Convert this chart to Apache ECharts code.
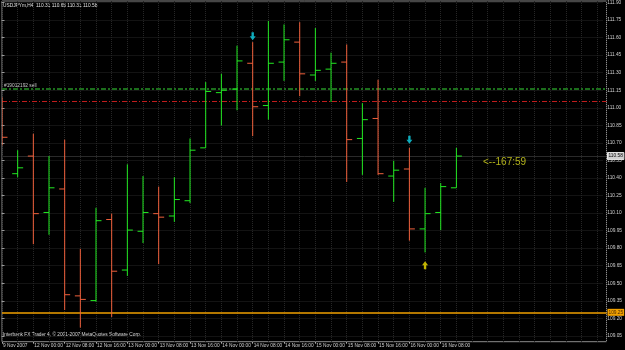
<!DOCTYPE html>
<html><head><meta charset="utf-8">
<script src="https://cdn.jsdelivr.net/npm/echarts@6/dist/echarts.min.js"></script>
<style>html,body{margin:0;padding:0;background:#000;}#c{width:625px;height:350px;}</style>
</head><body><div id="c"></div>
<script>
// ---- data ----
const timeLabels = ['9 Nov 2007','12 Nov 00:00','12 Nov 08:00','12 Nov 16:00','13 Nov 00:00','13 Nov 08:00','13 Nov 16:00','14 Nov 00:00','14 Nov 08:00','14 Nov 16:00','15 Nov 00:00','15 Nov 08:00','15 Nov 16:00','16 Nov 00:00','16 Nov 08:00'];
const labelBars = [0,2,4,6,8,10,12,14,16,18,20,22,24,26,28];
const opens  = [110.95,110.43,110.58,110.10,110.30,109.39,109.35,110.04,109.61,109.94,110.09,110.07,110.20,110.65,111.12,111.15,111.37,111.01,111.38,111.55,111.27,111.32,111.38,110.73,110.90,110.41,110.47,109.96,110.10,110.31];
const highs  = [111.08,110.63,110.77,110.58,110.72,109.79,110.14,110.09,110.51,110.41,110.32,110.40,110.73,111.21,111.28,111.52,111.55,111.73,111.70,111.72,111.67,111.46,111.53,111.03,111.23,110.54,110.65,110.31,110.35,110.65];
const lows   = [110.67,110.40,109.83,109.91,109.27,109.12,109.34,109.21,109.56,109.84,109.66,110.02,110.18,110.65,110.84,110.97,110.75,110.89,111.22,111.09,111.22,111.04,110.36,110.42,110.42,110.19,109.86,109.76,109.95,110.31];
const closes = [110.74,110.48,110.09,110.31,109.40,109.36,110.03,109.60,109.95,110.10,110.06,110.21,110.63,111.13,111.14,111.39,111.00,111.37,111.57,111.28,111.31,111.37,110.72,110.89,110.43,110.46,109.96,110.09,110.32,110.58];
const orderLevels = [111.15, 111.05];
const orderLabel = '#19012192 sell';
const bidPrice = 110.58;
const alertPrice = 109.25;
const arrowDown = [[16,111.60],[26,110.72]];
const arrowUp = [[27,109.65]];
const timerText = '<--167:59';
const timerAt = [30.7, 110.53];
const headerText = 'USDJPYm,H4  110.31 110.65 110.31 110.58';
const footerText = 'Interbank FX Trader 4, \u00A9 2001-2007 MetaQuotes Software Corp.';

// ---- chart ----
const bars = opens.map((o,i)=>[i,o,highs[i],lows[i],closes[i]]);
const BULL='#22e822', BEAR='#f0603c';
const FONT='Liberation Sans';
const XMAX=38.58;
const GRIDC='#262626';
const chart = echarts.init(document.getElementById('c'), null, {renderer:'canvas'});
chart.setOption({
  backgroundColor:'#000',
  animation:false,
  textStyle:{fontFamily:FONT},
  grid:[
    {left:1.5, right:18.5, top:1, bottom:8.3, show:true, borderColor:'#8c8c8c', borderWidth:1, backgroundColor:'transparent'},
    {left:1.5, right:18.5, top:1, bottom:14.1, show:false}
  ],
  xAxis:[
    {gridIndex:0, type:'value', min:0, max:XMAX, interval:1, axisLine:{show:false}, axisTick:{show:false}, axisLabel:{show:false},
      splitLine:{show:true, lineStyle:{color:GRIDC, type:'dotted', width:1}}},
    {gridIndex:0, type:'value', min:0, max:XMAX, position:'bottom', axisLine:{show:false},
      axisTick:{show:true, customValues:labelBars, length:2, lineStyle:{color:'#aaa'}},
      axisLabel:{show:true, customValues:labelBars, formatter:(v)=>{const k=labelBars.indexOf(Math.round(v)); return k>=0?timeLabels[k]:'';},
        align:'left', margin:1, padding:[0,0,0,1], fontSize:4.8, color:'#cfcfcf', fontFamily:FONT},
      splitLine:{show:false}},
    {gridIndex:1, type:'value', min:0, max:XMAX, show:false}
  ],
  yAxis:[
    {gridIndex:0, type:'value', min:109.0, max:111.90, show:false, splitLine:{show:false}},
    {gridIndex:1, type:'value', min:109.05, max:111.90, interval:0.15, position:'right', axisLine:{show:false},
      axisTick:{show:true, length:3, lineStyle:{color:'#9a9a9a'}},
      axisLabel:{show:true, fontSize:4.8, color:'#cfcfcf', margin:4, fontFamily:FONT, formatter:(v)=>v.toFixed(2)},
      splitLine:{show:true, lineStyle:{color:GRIDC, type:'dotted', width:1}}}
  ],
  series:[
    {type:'custom', xAxisIndex:0, yAxisIndex:0, clip:true, data:bars, z:5,
      renderItem:(params, api)=>{
        const x=api.value(0), o=api.value(1), h=api.value(2), l=api.value(3), c=api.value(4);
        const pH=api.coord([x,h]), pL=api.coord([x,l]), pO=api.coord([x,o]), pC=api.coord([x,c]);
        const w=api.size([1,0])[0]*0.35;
        const col = c>=o?BULL:BEAR;
        const st={stroke:col, lineWidth:1};
        return {type:'group', children:[
          {type:'line', shape:{x1:pH[0],y1:pH[1],x2:pL[0],y2:pL[1]}, style:st},
          {type:'line', shape:{x1:pO[0]-w,y1:pO[1],x2:pO[0],y2:pO[1]}, style:st},
          {type:'line', shape:{x1:pC[0],y1:pC[1],x2:pC[0]+w,y2:pC[1]}, style:st}
        ]};
      },
      markLine:{silent:true, symbol:['none','none'], animation:false,
        data:[
          {yAxis:orderLevels[0], lineStyle:{color:'#1c6e1c', width:2, type:[5,2,2,2]},
            label:{show:true, position:'insideStartTop', formatter:orderLabel, color:'#c8c8c8', fontSize:4.8, fontFamily:FONT, distance:[2,1]}},
          {yAxis:orderLevels[1], lineStyle:{color:'#c01c1c', width:1, type:[5,2,1,2]}, label:{show:false}},
          {yAxis:bidPrice, lineStyle:{color:'#2a2a2a', width:1, type:'solid'},
            label:{show:true, position:'end', distance:1, formatter:bidPrice.toFixed(2), color:'#000', backgroundColor:'#d0d0d0', borderColor:'#fff', borderWidth:0.5, padding:[1,1,1,1], fontSize:4.8, fontFamily:FONT}},
          {yAxis:alertPrice, lineStyle:{color:'#f0a000', width:1.5, type:'solid'},
            label:{show:true, position:'end', distance:1, formatter:alertPrice.toFixed(2), color:'#4a2a00', backgroundColor:'#f0a000', padding:[1,1,1,1], fontSize:4.8, fontFamily:FONT}}
        ]}
    },
    {type:'scatter', xAxisIndex:0, yAxisIndex:0, data:arrowDown, z:6,
      symbol:'path://M3,0 L7,0 L7,5 L10,5 L5,10 L0,5 L3,5 Z', symbolSize:[6,8], itemStyle:{color:'#10d4e8'}},
    {type:'scatter', xAxisIndex:0, yAxisIndex:0, data:arrowUp, z:6,
      symbol:'path://M5,0 L10,5 L7,5 L7,10 L3,10 L3,5 L0,5 Z', symbolSize:[6,8], itemStyle:{color:'#f0e000'}},
    {type:'scatter', xAxisIndex:0, yAxisIndex:0, data:[timerAt], symbolSize:0, z:6,
      label:{show:true, position:'right', distance:0, formatter:timerText, color:'#dcdc20', fontSize:10, fontFamily:FONT}}
  ],
  graphic:[
    {type:'text', left:3, top:3, style:{text:headerText, fill:'#e0e0e0', font:'4.8px "Liberation Sans"'}},
    {type:'text', left:3, top:332, style:{text:footerText, fill:'#d8d8d8', font:'4.8px "Liberation Sans"'}}
  ]
});
</script></body></html>
